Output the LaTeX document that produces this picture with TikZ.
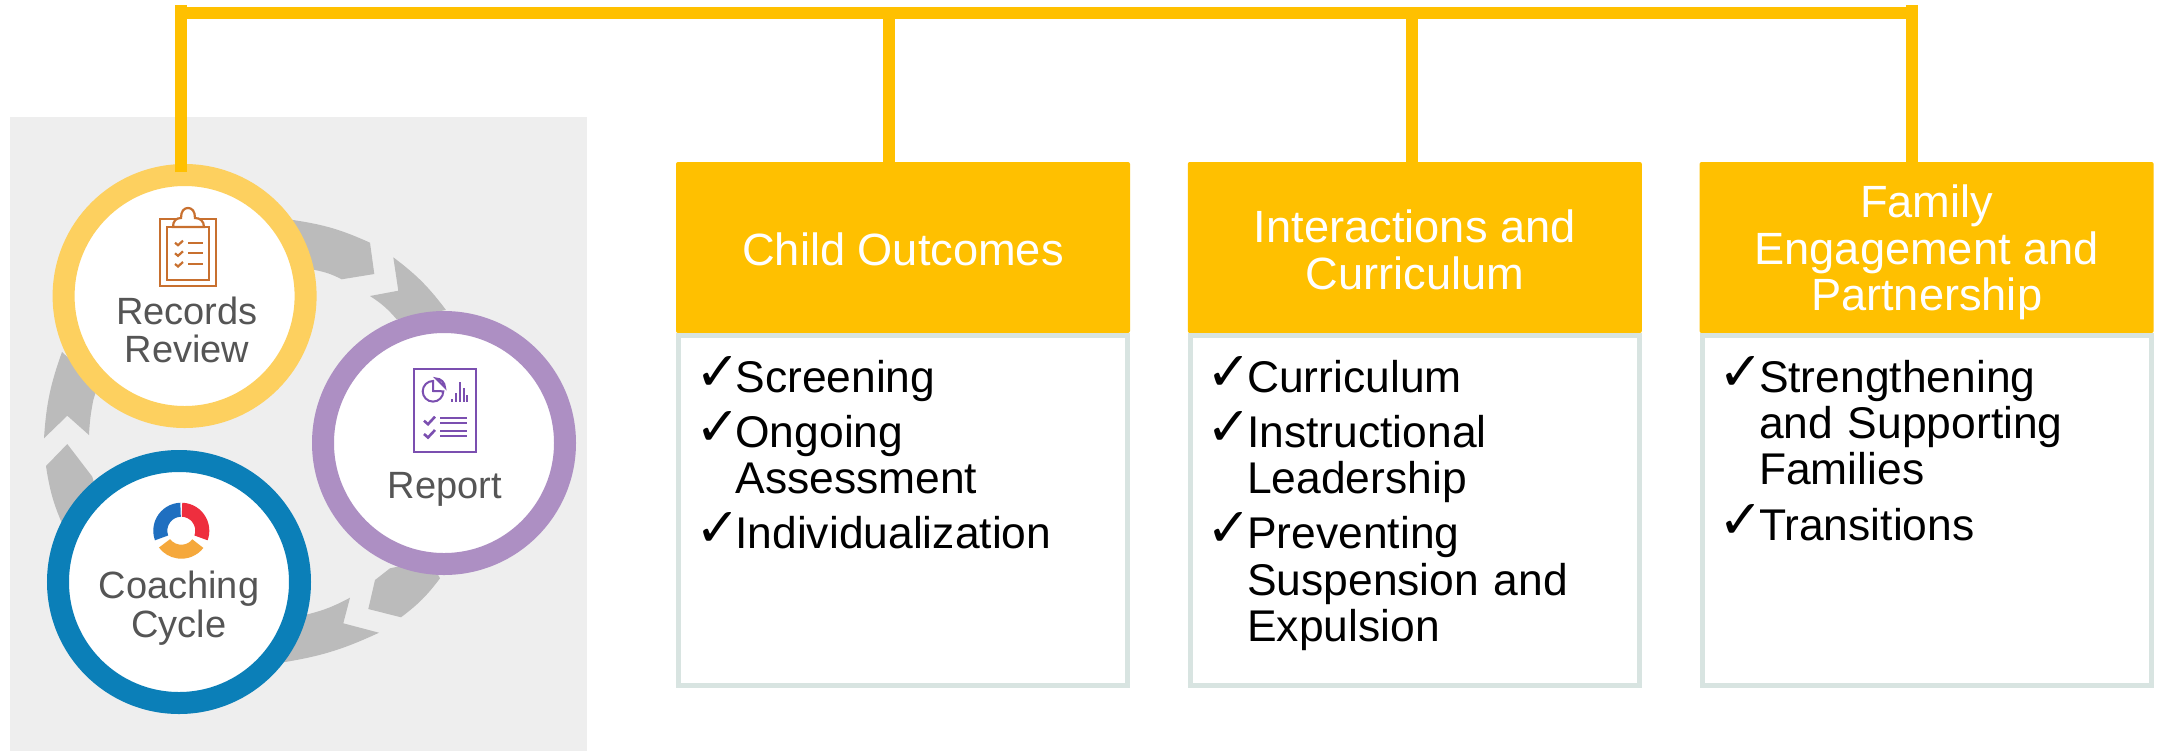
\documentclass[tikz,border=0pt]{standalone}
\usepackage{fontspec}
\setmainfont{Liberation Sans}
\newfontfamily\chkfont{DejaVu Sans}
\usetikzlibrary{calc,positioning}

\definecolor{busyellow}{HTML}{FFC000}
\definecolor{panelgray}{HTML}{EEEEEE}
\definecolor{arcgray}{HTML}{BBBBBB}
\definecolor{ringyellow}{HTML}{FDD05F}
\definecolor{ringpurple}{HTML}{AD8FC3}
\definecolor{ringblue}{HTML}{0B7FB8}
\definecolor{bodyline}{HTML}{D8E4E1}
\definecolor{ringtext}{HTML}{555555}
\definecolor{clipbrown}{HTML}{C8702F}
\definecolor{reportpurple}{HTML}{7B4FB0}

\newcommand{\chkitem}[1]{\par\vspace{4.4pt}\noindent
  \hbox to 20.2pt{\smash{\raisebox{1pt}{\chkfont\fontsize{27}{23}\selectfont ✓}}\hss}#1}
\newcommand{\chkmore}[1]{\par\noindent\hbox to 20.2pt{\hss}#1}

\tikzset{
  busline/.style={draw=busyellow,line width=5.8pt},
  arcseg/.style={fill=arcgray},
  ringnode/.style={circle,draw=#1,fill=white,line width=11pt,minimum size=121pt,inner sep=0pt},
  ringlabel/.style={text=ringtext,align=center,inner sep=0pt,anchor=base,
    font=\fontsize{19}{18}\selectfont},
  headbox/.style={fill=busyellow,rounded corners=1pt,inner sep=0pt,
    minimum width=227pt,minimum height=85.5pt},
  headtext/.style={text=white,align=center,inner sep=0pt,font=\fontsize{22.6}{23.2}\selectfont},
  bodybox/.style={draw=bodyline,fill=white,line width=2.5pt,inner sep=0pt,
    minimum width=224.5pt,minimum height=175pt},
  listtext/.style={anchor=north west,inner sep=0pt,text width=205pt,align=left,
    font=\fontsize{22.2}{23.2}\selectfont\setlength{\parskip}{0pt}},
  clipline/.style={draw=clipbrown,line width=1.1pt},
  reportline/.style={draw=reportpurple,line width=1pt},
}

\begin{document}
\begin{tikzpicture}[x=.5pt,y=-.5pt]
  \useasboundingbox (0,0) rectangle (2164,751);
  \fill[panelgray] (10,117) rectangle (587,751);
  % Grey arrows of the cycle
  \fill[arcseg] (270,210) -- (293,220) to[bend left=8] (370,242.7) -- (374.3,274)
    -- (341.7,279.3) to[bend right=8] (315,270) -- (280,268) -- cycle;
  \fill[arcseg] (393.3,257.3) to[bend left=8] (446,310) -- (396.7,319.3)
    to[bend right=8] (370,296) -- (398.3,290.7) -- cycle;
  \fill[arcseg] (440,578.3) to[bend left=8] (401,617.3) -- (368.3,609) -- (375,580)
    -- (390,568.3) -- (430,560) -- cycle;
  \fill[arcseg] (379,632.7) to[bend left=8] (280,662.8) -- (300,616)
    to[bend right=8] (350,597.7) -- (343.3,623.3) -- cycle;
  \fill[arcseg] (65,530) to[bend left=8] (46,466) -- (67.3,444) -- (92.3,476.7)
    -- (98.8,500) -- cycle;
  \fill[arcseg] (44,438.3) to[bend left=8] (62,352) -- (98,385) -- (93.3,400)
    to[bend right=4] (89,435) -- (67.3,415.7) -- cycle;
  % Cycle rings
  \node[ringnode=ringyellow] (records) at (184.6,296) {};
  \node[ringnode=ringpurple] (report) at (444,443) {};
  \node[ringnode=ringblue] (coaching) at (179,582) {};
  \node[ringlabel] (recordsText) at (187,324) {Records};
  \node[ringlabel] (reviewText) at (187,362) {Review};
  \node[ringlabel] (reportText) at (444.6,498) {Report};
  \node[ringlabel] (coachingText) at (179,598) {Coaching};
  \node[ringlabel] (cycleText) at (179,637) {Cycle};
  % Clipboard
  \draw[clipline] (160,219) rectangle (216,286);
  \draw[clipline] (167,227) rectangle (209,280);
  \draw[clipline,fill=white] (173,227) .. controls (173,221) and (176,218) .. (181,218)
    .. controls (181,211) and (184,208) .. (188,208)
    .. controls (192,208) and (195,211) .. (195,218)
    .. controls (200,218) and (204,221) .. (204,227) -- cycle;
  \foreach \ly in {242.7,253.3,264} {
    \draw[clipline] (175,\ly) -- (178,\ly+2.5) -- (183,\ly-2);
    \draw[clipline] (188,\ly) -- (203,\ly);
  }
  % Report sheet
  \draw[reportline] (414,369.3) rectangle (476,451.7);
  \draw[reportline] (433,381) arc[start angle=-90,end angle=-360,radius=10.3] -- (433,391) -- cycle;
  \draw[reportline] (436,378.5) arc[start angle=-90,end angle=0,radius=9] -- cycle;
  \foreach \bx/\by in {452/399,456/393,460/382,463.5/388,467/395}
    \draw[reportline] (\bx,401.7) -- (\bx,\by);
  \foreach \ly in {420.7,434} {
    \draw[reportline,line width=1.3pt] (424,\ly) -- (428,\ly+3.5) -- (435,\ly-4);
    \draw[reportline] (440,\ly-3) -- (467,\ly-3);
    \draw[reportline] (440,\ly+2.3) -- (467,\ly+2.3);
  }
  % Coaching wheel
  \coordinate (wheel) at (181.3,530.7);
  \foreach \wcol/\wfrom/\wto in {1F6FC0/-92/-200,EE2E3E/-88/20,F5A83C/38/143} {
    \definecolor{wheelcol}{HTML}{\wcol}
    \fill[wheelcol,shift={(wheel)}] (\wfrom:28) arc[start angle=\wfrom,end angle=\wto,radius=28]
      -- (\wto:14) arc[start angle=\wto,end angle=\wfrom,radius=14] -- cycle;
  }
  % Columns
  \node[headbox] (headA) at (903,247.5) {};
  \node[headbox,right=28.5pt of headA] (headB) {};
  \node[headbox,right=28.5pt of headB] (headC) {};
  \node[headtext] (titleA) at ($(headA)+(0,1.5)$) {Child Outcomes};
  \node[headtext] (titleB) at ($(headB)+(0,2.5)$) {Interactions and\\Curriculum};
  \node[headtext] (titleC) at ($(headC)+(0,5)$) {Family\\Engagement and\\Partnership};
  \node[bodybox,below=0pt of headA] (bodyA) {};
  \node[bodybox,below=0pt of headB] (bodyB) {};
  \node[bodybox,below=0pt of headC] (bodyC) {};
  \node[listtext,below right=1.5pt and 9.3pt of bodyA.north west] (listA)
    {\chkitem{Screening}\chkitem{Ongoing}\chkmore{Assessment}\chkitem{Individualization}};
  \node[listtext,below right=1.5pt and 9.3pt of bodyB.north west] (listB)
    {\chkitem{Curriculum}\chkitem{Instructional}\chkmore{Leadership}\chkitem{Preventing}%
     \chkmore{Suspension and}\chkmore{Expulsion}};
  \node[listtext,below right=1.5pt and 9.3pt of bodyC.north west] (listC)
    {\chkitem{Strengthening}\chkmore{and Supporting}\chkmore{Families}\chkitem{Transitions}};
  % Yellow bus
  \coordinate (tapR) at (181,13);
  \coordinate (tapA) at (889,13);
  \coordinate (tapB) at (1412,13);
  \coordinate (tapC) at (1911.7,13);
  \coordinate (tapRtop) at (181,5);
  \coordinate (tapCtop) at (1911.7,5);
  \draw[busline] (tapR) -- (tapC);
  \draw[busline,line width=6pt,shorten <=-4pt] (tapR |- records.north) -- (tapRtop);
  \draw[busline,line width=6pt] (tapCtop) -- (tapC |- headC.north);
  \draw[busline,line width=6pt] (tapA) -- (tapA |- headA.north);
  \draw[busline,line width=6pt] (tapB) -- (tapB |- headB.north);
\end{tikzpicture}
\end{document}
